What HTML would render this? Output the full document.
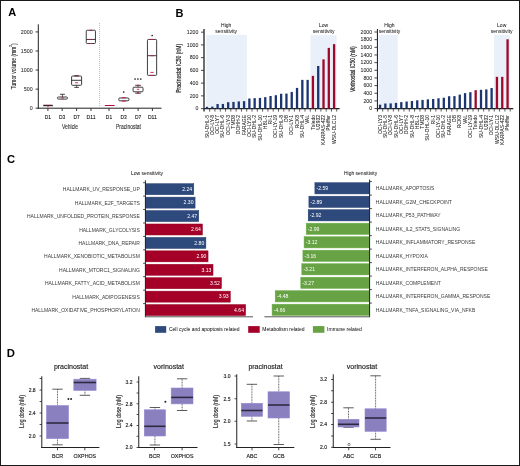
<!DOCTYPE html>
<html><head><meta charset="utf-8"><title>Figure</title>
<style>
html,body{margin:0;padding:0;background:#fff;}
#fig{position:relative;width:518px;height:464px;border:1px solid #1a1a1a;overflow:hidden;background:#fff;}
svg{will-change:transform;position:absolute;left:-1px;top:-1px;font-family:"Liberation Sans", sans-serif;}
</style></head><body>
<div id="fig">
<svg width="520" height="466" viewBox="0 0 520 466">
<text x="8.30" y="16.20" font-size="11" fill="#000" font-weight="bold">A</text>
<text x="175.50" y="16.60" font-size="11" fill="#000" font-weight="bold">B</text>
<text x="7.00" y="163.20" font-size="11.2" fill="#000" font-weight="bold">C</text>
<text x="6.70" y="356.80" font-size="11.3" fill="#000" font-weight="bold">D</text>
<line x1="38.30" y1="24.30" x2="38.30" y2="108.70" stroke="#222" stroke-width="1" />
<line x1="37.80" y1="108.20" x2="161.50" y2="108.20" stroke="#222" stroke-width="1" />
<line x1="35.60" y1="108.20" x2="38.30" y2="108.20" stroke="#222" stroke-width="0.9" />
<text x="32.60" y="110.00" font-size="5.3" text-anchor="end" fill="#3a3a3a" stroke="#3a3a3a" stroke-width="0.1">0</text>
<line x1="35.60" y1="89.13" x2="38.30" y2="89.13" stroke="#222" stroke-width="0.9" />
<text x="32.60" y="90.93" font-size="5.3" text-anchor="end" fill="#3a3a3a" stroke="#3a3a3a" stroke-width="0.1">500</text>
<line x1="35.60" y1="70.06" x2="38.30" y2="70.06" stroke="#222" stroke-width="0.9" />
<text x="32.60" y="71.86" font-size="5.3" text-anchor="end" fill="#3a3a3a" stroke="#3a3a3a" stroke-width="0.1">1000</text>
<line x1="35.60" y1="50.99" x2="38.30" y2="50.99" stroke="#222" stroke-width="0.9" />
<text x="32.60" y="52.79" font-size="5.3" text-anchor="end" fill="#3a3a3a" stroke="#3a3a3a" stroke-width="0.1">1500</text>
<line x1="35.60" y1="31.92" x2="38.30" y2="31.92" stroke="#222" stroke-width="0.9" />
<text x="32.60" y="33.72" font-size="5.3" text-anchor="end" fill="#3a3a3a" stroke="#3a3a3a" stroke-width="0.1">2000</text>
<text x="16.00" y="89.30" font-size="7.4" fill="#222" textLength="45.90" lengthAdjust="spacingAndGlyphs" transform="rotate(-90 16.00 89.30)" stroke="#222" stroke-width="0.1">Tumor volume (mm<tspan font-size="4.2" dy="-4.0">3</tspan><tspan dy="4.0">)</tspan></text>
<line x1="99.60" y1="23.00" x2="99.60" y2="108.00" stroke="#aaa" stroke-width="0.8" stroke-dasharray="1,1"/>
<line x1="47.90" y1="108.20" x2="47.90" y2="111.00" stroke="#222" stroke-width="0.9" />
<text x="47.90" y="119.00" font-size="5.8" text-anchor="middle" textLength="6.30" lengthAdjust="spacingAndGlyphs" stroke="#333" stroke-width="0.1">D1</text>
<line x1="62.20" y1="108.20" x2="62.20" y2="111.00" stroke="#222" stroke-width="0.9" />
<text x="62.20" y="119.00" font-size="5.8" text-anchor="middle" textLength="6.30" lengthAdjust="spacingAndGlyphs" stroke="#333" stroke-width="0.1">D3</text>
<line x1="76.60" y1="108.20" x2="76.60" y2="111.00" stroke="#222" stroke-width="0.9" />
<text x="76.60" y="119.00" font-size="5.8" text-anchor="middle" textLength="6.30" lengthAdjust="spacingAndGlyphs" stroke="#333" stroke-width="0.1">D7</text>
<line x1="91.00" y1="108.20" x2="91.00" y2="111.00" stroke="#222" stroke-width="0.9" />
<text x="91.00" y="119.00" font-size="5.8" text-anchor="middle" textLength="9.00" lengthAdjust="spacingAndGlyphs" stroke="#333" stroke-width="0.1">D11</text>
<line x1="109.00" y1="108.20" x2="109.00" y2="111.00" stroke="#222" stroke-width="0.9" />
<text x="109.00" y="119.00" font-size="5.8" text-anchor="middle" textLength="6.30" lengthAdjust="spacingAndGlyphs" stroke="#333" stroke-width="0.1">D1</text>
<line x1="123.70" y1="108.20" x2="123.70" y2="111.00" stroke="#222" stroke-width="0.9" />
<text x="123.70" y="119.00" font-size="5.8" text-anchor="middle" textLength="6.30" lengthAdjust="spacingAndGlyphs" stroke="#333" stroke-width="0.1">D3</text>
<line x1="138.10" y1="108.20" x2="138.10" y2="111.00" stroke="#222" stroke-width="0.9" />
<text x="138.10" y="119.00" font-size="5.8" text-anchor="middle" textLength="6.30" lengthAdjust="spacingAndGlyphs" stroke="#333" stroke-width="0.1">D7</text>
<line x1="152.40" y1="108.20" x2="152.40" y2="111.00" stroke="#222" stroke-width="0.9" />
<text x="152.40" y="119.00" font-size="5.8" text-anchor="middle" textLength="9.00" lengthAdjust="spacingAndGlyphs" stroke="#333" stroke-width="0.1">D11</text>
<text x="70.00" y="129.00" font-size="7" text-anchor="middle" fill="#2a2a2a" textLength="16.20" lengthAdjust="spacingAndGlyphs" stroke="#2a2a2a" stroke-width="0.1">Vehicle</text>
<text x="128.50" y="129.00" font-size="7" text-anchor="middle" fill="#2a2a2a" textLength="25.00" lengthAdjust="spacingAndGlyphs" stroke="#2a2a2a" stroke-width="0.1">Pracinostat</text>
<line x1="43.20" y1="105.50" x2="52.80" y2="105.50" stroke="#222" stroke-width="1.4" />
<line x1="44.50" y1="105.20" x2="51.50" y2="105.20" stroke="#c8154a" stroke-width="0.6" opacity="0.6"/>
<line x1="48.00" y1="106.00" x2="48.00" y2="107.30" stroke="#c8154a" stroke-width="0.8" />
<line x1="62.45" y1="94.30" x2="62.45" y2="97.00" stroke="#333" stroke-width="0.8" />
<line x1="60.00" y1="94.30" x2="64.90" y2="94.30" stroke="#333" stroke-width="0.9" />
<rect x="57.45" y="97.00" width="10.00" height="2.10" rx="0.9" fill="none" stroke="#333" stroke-width="0.95"/>
<line x1="60.95" y1="98.00" x2="63.95" y2="98.00" stroke="#c8154a" stroke-width="0.9" />
<line x1="76.60" y1="75.70" x2="76.60" y2="76.05" stroke="#333" stroke-width="0.8" />
<line x1="74.30" y1="75.70" x2="78.90" y2="75.70" stroke="#333" stroke-width="0.9" />
<line x1="76.60" y1="85.30" x2="76.60" y2="87.40" stroke="#333" stroke-width="0.8" />
<line x1="74.30" y1="87.40" x2="78.90" y2="87.40" stroke="#333" stroke-width="0.9" />
<rect x="71.60" y="76.05" width="10.00" height="9.25" rx="0.9" fill="none" stroke="#333" stroke-width="0.95"/>
<line x1="71.60" y1="80.30" x2="81.60" y2="80.30" stroke="#333" stroke-width="0.95" />
<line x1="75.20" y1="75.90" x2="78.00" y2="75.90" stroke="#c8154a" stroke-width="0.9" />
<line x1="75.20" y1="82.80" x2="78.00" y2="82.80" stroke="#c8154a" stroke-width="0.9" />
<rect x="86.25" y="30.25" width="9.20" height="13.25" rx="0.9" fill="none" stroke="#333" stroke-width="0.95"/>
<line x1="86.25" y1="39.46" x2="95.45" y2="39.46" stroke="#333" stroke-width="0.95" />
<line x1="89.55" y1="30.25" x2="92.15" y2="30.25" stroke="#c8154a" stroke-width="0.9" />
<line x1="89.55" y1="39.46" x2="92.15" y2="39.46" stroke="#c8154a" stroke-width="0.9" />
<line x1="89.55" y1="43.50" x2="92.15" y2="43.50" stroke="#c8154a" stroke-width="0.9" />
<line x1="104.80" y1="105.50" x2="114.60" y2="105.50" stroke="#b0103a" stroke-width="1.0" />
<rect x="118.80" y="98.00" width="10.10" height="2.80" rx="0.9" fill="none" stroke="#333" stroke-width="0.95"/>
<line x1="121.85" y1="97.60" x2="125.85" y2="97.60" stroke="#c8154a" stroke-width="0.9" />
<line x1="121.85" y1="101.20" x2="125.85" y2="101.20" stroke="#c8154a" stroke-width="0.9" />
<line x1="138.05" y1="85.30" x2="138.05" y2="87.20" stroke="#333" stroke-width="0.8" />
<line x1="135.20" y1="85.30" x2="140.90" y2="85.30" stroke="#333" stroke-width="0.9" />
<line x1="138.05" y1="91.80" x2="138.05" y2="93.20" stroke="#333" stroke-width="0.8" />
<line x1="135.20" y1="93.20" x2="140.90" y2="93.20" stroke="#333" stroke-width="0.9" />
<rect x="133.10" y="87.20" width="9.90" height="4.60" rx="0.9" fill="none" stroke="#333" stroke-width="0.95"/>
<line x1="136.85" y1="85.30" x2="139.25" y2="85.30" stroke="#c8154a" stroke-width="0.9" />
<line x1="136.85" y1="89.30" x2="139.25" y2="89.30" stroke="#c8154a" stroke-width="0.9" />
<line x1="136.85" y1="93.20" x2="139.25" y2="93.20" stroke="#c8154a" stroke-width="0.9" />
<rect x="147.45" y="39.45" width="9.20" height="35.95" rx="0.9" fill="none" stroke="#333" stroke-width="0.95"/>
<line x1="147.45" y1="55.70" x2="156.65" y2="55.70" stroke="#333" stroke-width="0.95" />
<line x1="150.45" y1="39.45" x2="153.65" y2="39.45" stroke="#c8154a" stroke-width="0.9" />
<line x1="150.45" y1="55.70" x2="153.65" y2="55.70" stroke="#c8154a" stroke-width="0.9" />
<line x1="150.45" y1="72.40" x2="153.65" y2="72.40" stroke="#c8154a" stroke-width="0.9" />
<line x1="150.45" y1="75.40" x2="153.65" y2="75.40" stroke="#c8154a" stroke-width="0.9" />
<circle cx="123.7" cy="92.0" r="0.85" fill="#222"/>
<circle cx="135.1" cy="79.0" r="0.85" fill="#222"/>
<circle cx="137.9" cy="79.0" r="0.85" fill="#222"/>
<circle cx="140.75" cy="79.0" r="0.85" fill="#222"/>
<circle cx="152.15" cy="35.5" r="0.85" fill="#222"/>
<rect x="206.20" y="34.90" width="40.80" height="73.70" fill="#e9f0fa" />
<rect x="310.50" y="35.20" width="26.10" height="73.40" fill="#e9f0fa" />
<line x1="204.00" y1="29.10" x2="204.00" y2="111.60" stroke="#4a4a4a" stroke-width="1.6" />
<line x1="203.50" y1="108.60" x2="339.60" y2="108.60" stroke="#222" stroke-width="1.2" />
<line x1="201.00" y1="108.60" x2="204.00" y2="108.60" stroke="#333" stroke-width="0.9" />
<text x="198.30" y="110.40" font-size="5.2" text-anchor="end" fill="#222" stroke="#222" stroke-width="0.05">0</text>
<line x1="201.00" y1="95.86" x2="204.00" y2="95.86" stroke="#333" stroke-width="0.9" />
<text x="198.30" y="97.66" font-size="5.2" text-anchor="end" fill="#222" stroke="#222" stroke-width="0.05">200</text>
<line x1="201.00" y1="83.12" x2="204.00" y2="83.12" stroke="#333" stroke-width="0.9" />
<text x="198.30" y="84.92" font-size="5.2" text-anchor="end" fill="#222" stroke="#222" stroke-width="0.05">400</text>
<line x1="201.00" y1="70.38" x2="204.00" y2="70.38" stroke="#333" stroke-width="0.9" />
<text x="198.30" y="72.18" font-size="5.2" text-anchor="end" fill="#222" stroke="#222" stroke-width="0.05">600</text>
<line x1="201.00" y1="57.64" x2="204.00" y2="57.64" stroke="#333" stroke-width="0.9" />
<text x="198.30" y="59.44" font-size="5.2" text-anchor="end" fill="#222" stroke="#222" stroke-width="0.05">800</text>
<line x1="201.00" y1="44.90" x2="204.00" y2="44.90" stroke="#333" stroke-width="0.9" />
<text x="198.30" y="46.70" font-size="5.2" text-anchor="end" fill="#222" stroke="#222" stroke-width="0.05">1000</text>
<line x1="201.00" y1="32.16" x2="204.00" y2="32.16" stroke="#333" stroke-width="0.9" />
<text x="198.30" y="33.96" font-size="5.2" text-anchor="end" fill="#222" stroke="#222" stroke-width="0.05">1200</text>
<text x="181.30" y="68.35" font-size="6.6" text-anchor="middle" fill="#222" textLength="48.90" lengthAdjust="spacingAndGlyphs" transform="rotate(-90 181.30 68.35)" stroke="#222" stroke-width="0.2">Pracinostat IC50 (nM)</text>
<rect x="205.85" y="106.82" width="2.30" height="1.78" fill="#1b3570" />
<line x1="209.65" y1="108.60" x2="209.65" y2="111.60" stroke="#333" stroke-width="0.8" />
<text x="208.60" y="115.00" font-size="5.0" text-anchor="end" fill="#222" transform="rotate(-90 208.60 115.00)" stroke="#222" stroke-width="0.05">SU-DHL-5</text>
<rect x="211.15" y="106.63" width="2.30" height="1.97" fill="#1b3570" />
<line x1="214.94" y1="108.60" x2="214.94" y2="111.60" stroke="#333" stroke-width="0.8" />
<text x="213.90" y="115.00" font-size="5.0" text-anchor="end" fill="#222" transform="rotate(-90 213.90 115.00)" stroke="#222" stroke-width="0.05">OCI-LY-8</text>
<rect x="216.44" y="104.01" width="2.30" height="4.59" fill="#1b3570" />
<line x1="220.24" y1="108.60" x2="220.24" y2="111.60" stroke="#333" stroke-width="0.8" />
<text x="219.19" y="115.00" font-size="5.0" text-anchor="end" fill="#222" transform="rotate(-90 219.19 115.00)" stroke="#222" stroke-width="0.05">OCI-LY7</text>
<rect x="221.74" y="103.95" width="2.30" height="4.65" fill="#1b3570" />
<line x1="225.54" y1="108.60" x2="225.54" y2="111.60" stroke="#333" stroke-width="0.8" />
<text x="224.49" y="115.00" font-size="5.0" text-anchor="end" fill="#222" transform="rotate(-90 224.49 115.00)" stroke="#222" stroke-width="0.05">SU-DHL-6</text>
<rect x="227.03" y="102.23" width="2.30" height="6.37" fill="#1b3570" />
<line x1="230.83" y1="108.60" x2="230.83" y2="111.60" stroke="#333" stroke-width="0.8" />
<text x="229.78" y="115.00" font-size="5.0" text-anchor="end" fill="#222" transform="rotate(-90 229.78 115.00)" stroke="#222" stroke-width="0.05">OCI-LY-3</text>
<rect x="232.33" y="101.91" width="2.30" height="6.69" fill="#1b3570" />
<line x1="236.13" y1="108.60" x2="236.13" y2="111.60" stroke="#333" stroke-width="0.8" />
<text x="235.08" y="115.00" font-size="5.0" text-anchor="end" fill="#222" transform="rotate(-90 235.08 115.00)" stroke="#222" stroke-width="0.05">TMD8</text>
<rect x="237.63" y="101.40" width="2.30" height="7.20" fill="#1b3570" />
<line x1="241.42" y1="108.60" x2="241.42" y2="111.60" stroke="#333" stroke-width="0.8" />
<text x="240.38" y="115.00" font-size="5.0" text-anchor="end" fill="#222" transform="rotate(-90 240.38 115.00)" stroke="#222" stroke-width="0.05">DOHH-2</text>
<rect x="242.92" y="101.15" width="2.30" height="7.45" fill="#1b3570" />
<line x1="246.72" y1="108.60" x2="246.72" y2="111.60" stroke="#333" stroke-width="0.8" />
<text x="245.67" y="115.00" font-size="5.0" text-anchor="end" fill="#222" transform="rotate(-90 245.67 115.00)" stroke="#222" stroke-width="0.05">FARAGE</text>
<rect x="248.22" y="98.54" width="2.30" height="10.06" fill="#1b3570" />
<line x1="252.02" y1="108.60" x2="252.02" y2="111.60" stroke="#333" stroke-width="0.8" />
<text x="250.97" y="115.00" font-size="5.0" text-anchor="end" fill="#222" transform="rotate(-90 250.97 115.00)" stroke="#222" stroke-width="0.05">OCI-LY10</text>
<rect x="253.51" y="98.15" width="2.30" height="10.45" fill="#1b3570" />
<line x1="257.31" y1="108.60" x2="257.31" y2="111.60" stroke="#333" stroke-width="0.8" />
<text x="256.26" y="115.00" font-size="5.0" text-anchor="end" fill="#222" transform="rotate(-90 256.26 115.00)" stroke="#222" stroke-width="0.05">SU-DHL-2</text>
<rect x="258.81" y="97.90" width="2.30" height="10.70" fill="#1b3570" />
<line x1="262.61" y1="108.60" x2="262.61" y2="111.60" stroke="#333" stroke-width="0.8" />
<text x="261.56" y="115.00" font-size="5.0" text-anchor="end" fill="#222" transform="rotate(-90 261.56 115.00)" stroke="#222" stroke-width="0.05">SU-DHL-10</text>
<rect x="264.11" y="97.13" width="2.30" height="11.47" fill="#1b3570" />
<line x1="267.90" y1="108.60" x2="267.90" y2="111.60" stroke="#333" stroke-width="0.8" />
<text x="266.86" y="115.00" font-size="5.0" text-anchor="end" fill="#222" transform="rotate(-90 266.86 115.00)" stroke="#222" stroke-width="0.05">HBL-1</text>
<rect x="269.40" y="95.99" width="2.30" height="12.61" fill="#1b3570" />
<line x1="273.20" y1="108.60" x2="273.20" y2="111.60" stroke="#333" stroke-width="0.8" />
<text x="272.15" y="115.00" font-size="5.0" text-anchor="end" fill="#222" transform="rotate(-90 272.15 115.00)" stroke="#222" stroke-width="0.05">RI-1</text>
<rect x="274.70" y="95.22" width="2.30" height="13.38" fill="#1b3570" />
<line x1="278.50" y1="108.60" x2="278.50" y2="111.60" stroke="#333" stroke-width="0.8" />
<text x="277.45" y="115.00" font-size="5.0" text-anchor="end" fill="#222" transform="rotate(-90 277.45 115.00)" stroke="#222" stroke-width="0.05">OCI-LY-19</text>
<rect x="279.99" y="93.76" width="2.30" height="14.84" fill="#1b3570" />
<line x1="283.79" y1="108.60" x2="283.79" y2="111.60" stroke="#333" stroke-width="0.8" />
<text x="282.74" y="115.00" font-size="5.0" text-anchor="end" fill="#222" transform="rotate(-90 282.74 115.00)" stroke="#222" stroke-width="0.05">SU-DHL-8</text>
<rect x="285.29" y="93.57" width="2.30" height="15.03" fill="#1b3570" />
<line x1="289.09" y1="108.60" x2="289.09" y2="111.60" stroke="#333" stroke-width="0.8" />
<text x="288.04" y="115.00" font-size="5.0" text-anchor="end" fill="#222" transform="rotate(-90 288.04 115.00)" stroke="#222" stroke-width="0.05">DB</text>
<rect x="290.59" y="91.91" width="2.30" height="16.69" fill="#1b3570" />
<line x1="294.38" y1="108.60" x2="294.38" y2="111.60" stroke="#333" stroke-width="0.8" />
<text x="293.34" y="115.00" font-size="5.0" text-anchor="end" fill="#222" transform="rotate(-90 293.34 115.00)" stroke="#222" stroke-width="0.05">OCI-LY-1</text>
<rect x="295.88" y="87.90" width="2.30" height="20.70" fill="#1b3570" />
<line x1="299.68" y1="108.60" x2="299.68" y2="111.60" stroke="#333" stroke-width="0.8" />
<text x="298.63" y="115.00" font-size="5.0" text-anchor="end" fill="#222" transform="rotate(-90 298.63 115.00)" stroke="#222" stroke-width="0.05">RCK8</text>
<rect x="301.18" y="79.87" width="2.30" height="28.73" fill="#1b3570" />
<line x1="304.98" y1="108.60" x2="304.98" y2="111.60" stroke="#333" stroke-width="0.8" />
<text x="303.93" y="115.00" font-size="5.0" text-anchor="end" fill="#222" transform="rotate(-90 303.93 115.00)" stroke="#222" stroke-width="0.05">SU-DHL-4</text>
<rect x="306.47" y="79.87" width="2.30" height="28.73" fill="#1b3570" />
<line x1="310.27" y1="108.60" x2="310.27" y2="111.60" stroke="#333" stroke-width="0.8" />
<text x="309.22" y="115.00" font-size="5.0" text-anchor="end" fill="#222" transform="rotate(-90 309.22 115.00)" stroke="#222" stroke-width="0.05">VAL</text>
<rect x="311.77" y="75.86" width="2.30" height="32.74" fill="#a0082a" />
<line x1="315.57" y1="108.60" x2="315.57" y2="111.60" stroke="#333" stroke-width="0.8" />
<text x="314.52" y="115.00" font-size="5.0" text-anchor="end" fill="#222" transform="rotate(-90 314.52 115.00)" stroke="#222" stroke-width="0.05">Toledo</text>
<rect x="317.07" y="65.98" width="2.30" height="42.62" fill="#1b3570" />
<line x1="320.86" y1="108.60" x2="320.86" y2="111.60" stroke="#333" stroke-width="0.8" />
<text x="319.82" y="115.00" font-size="5.0" text-anchor="end" fill="#222" transform="rotate(-90 319.82 115.00)" stroke="#222" stroke-width="0.05">U2932</text>
<rect x="322.36" y="59.36" width="2.30" height="49.24" fill="#a0082a" />
<line x1="326.16" y1="108.60" x2="326.16" y2="111.60" stroke="#333" stroke-width="0.8" />
<text x="325.11" y="115.00" font-size="5.0" text-anchor="end" fill="#222" transform="rotate(-90 325.11 115.00)" stroke="#222" stroke-width="0.05">KARPAS-422</text>
<rect x="327.66" y="47.89" width="2.30" height="60.71" fill="#a0082a" />
<line x1="331.46" y1="108.60" x2="331.46" y2="111.60" stroke="#333" stroke-width="0.8" />
<text x="330.41" y="115.00" font-size="5.0" text-anchor="end" fill="#222" transform="rotate(-90 330.41 115.00)" stroke="#222" stroke-width="0.05">Pfeiffer</text>
<rect x="332.95" y="44.14" width="2.30" height="64.46" fill="#a0082a" />
<line x1="336.75" y1="108.60" x2="336.75" y2="111.60" stroke="#333" stroke-width="0.8" />
<text x="335.70" y="115.00" font-size="5.0" text-anchor="end" fill="#222" transform="rotate(-90 335.70 115.00)" stroke="#222" stroke-width="0.05">WSU-DLCL2</text>
<text x="226.20" y="26.80" font-size="5" text-anchor="middle">High</text>
<text x="226.20" y="32.90" font-size="5" text-anchor="middle">sensitivity</text>
<text x="323.60" y="26.80" font-size="5" text-anchor="middle">Low</text>
<text x="323.60" y="32.90" font-size="5" text-anchor="middle">sensitivity</text>
<rect x="378.60" y="34.90" width="19.10" height="73.66" fill="#e9f0fa" />
<rect x="494.00" y="34.90" width="16.00" height="73.66" fill="#e9f0fa" />
<line x1="377.45" y1="29.10" x2="377.45" y2="111.56" stroke="#2a2a2a" stroke-width="1.1" />
<line x1="376.95" y1="108.56" x2="513.30" y2="108.56" stroke="#222" stroke-width="1.2" />
<line x1="374.45" y1="108.56" x2="377.45" y2="108.56" stroke="#333" stroke-width="0.9" />
<text x="372.10" y="110.36" font-size="5.2" text-anchor="end" fill="#222" stroke="#222" stroke-width="0.05">0</text>
<line x1="374.45" y1="100.90" x2="377.45" y2="100.90" stroke="#333" stroke-width="0.9" />
<text x="372.10" y="102.70" font-size="5.2" text-anchor="end" fill="#222" stroke="#222" stroke-width="0.05">200</text>
<line x1="374.45" y1="93.25" x2="377.45" y2="93.25" stroke="#333" stroke-width="0.9" />
<text x="372.10" y="95.05" font-size="5.2" text-anchor="end" fill="#222" stroke="#222" stroke-width="0.05">400</text>
<line x1="374.45" y1="85.59" x2="377.45" y2="85.59" stroke="#333" stroke-width="0.9" />
<text x="372.10" y="87.39" font-size="5.2" text-anchor="end" fill="#222" stroke="#222" stroke-width="0.05">600</text>
<line x1="374.45" y1="77.94" x2="377.45" y2="77.94" stroke="#333" stroke-width="0.9" />
<text x="372.10" y="79.74" font-size="5.2" text-anchor="end" fill="#222" stroke="#222" stroke-width="0.05">800</text>
<line x1="374.45" y1="70.28" x2="377.45" y2="70.28" stroke="#333" stroke-width="0.9" />
<text x="372.10" y="72.08" font-size="5.2" text-anchor="end" fill="#222" stroke="#222" stroke-width="0.05">1000</text>
<line x1="374.45" y1="62.62" x2="377.45" y2="62.62" stroke="#333" stroke-width="0.9" />
<text x="372.10" y="64.42" font-size="5.2" text-anchor="end" fill="#222" stroke="#222" stroke-width="0.05">1200</text>
<line x1="374.45" y1="54.97" x2="377.45" y2="54.97" stroke="#333" stroke-width="0.9" />
<text x="372.10" y="56.77" font-size="5.2" text-anchor="end" fill="#222" stroke="#222" stroke-width="0.05">1400</text>
<line x1="374.45" y1="47.31" x2="377.45" y2="47.31" stroke="#333" stroke-width="0.9" />
<text x="372.10" y="49.11" font-size="5.2" text-anchor="end" fill="#222" stroke="#222" stroke-width="0.05">1600</text>
<line x1="374.45" y1="39.66" x2="377.45" y2="39.66" stroke="#333" stroke-width="0.9" />
<text x="372.10" y="41.46" font-size="5.2" text-anchor="end" fill="#222" stroke="#222" stroke-width="0.05">1800</text>
<line x1="374.45" y1="32.00" x2="377.45" y2="32.00" stroke="#333" stroke-width="0.9" />
<text x="372.10" y="33.80" font-size="5.2" text-anchor="end" fill="#222" stroke="#222" stroke-width="0.05">2000</text>
<text x="354.60" y="69.25" font-size="6.6" text-anchor="middle" fill="#222" textLength="45.70" lengthAdjust="spacingAndGlyphs" transform="rotate(-90 354.60 69.25)" stroke="#222" stroke-width="0.2">Vorinostat IC50 (nM)</text>
<rect x="378.90" y="104.69" width="2.30" height="3.87" fill="#1b3570" />
<line x1="382.71" y1="108.56" x2="382.71" y2="111.56" stroke="#333" stroke-width="0.8" />
<text x="381.65" y="115.00" font-size="5.0" text-anchor="end" fill="#222" transform="rotate(-90 381.65 115.00)" stroke="#222" stroke-width="0.05">OCI-LY3</text>
<rect x="384.21" y="103.51" width="2.30" height="5.05" fill="#1b3570" />
<line x1="388.02" y1="108.56" x2="388.02" y2="111.56" stroke="#333" stroke-width="0.8" />
<text x="386.96" y="115.00" font-size="5.0" text-anchor="end" fill="#222" transform="rotate(-90 386.96 115.00)" stroke="#222" stroke-width="0.05">SU-DHL-5</text>
<rect x="389.53" y="103.39" width="2.30" height="5.17" fill="#1b3570" />
<line x1="393.33" y1="108.56" x2="393.33" y2="111.56" stroke="#333" stroke-width="0.8" />
<text x="392.28" y="115.00" font-size="5.0" text-anchor="end" fill="#222" transform="rotate(-90 392.28 115.00)" stroke="#222" stroke-width="0.05">OCI-LY-8</text>
<rect x="394.84" y="102.89" width="2.30" height="5.67" fill="#1b3570" />
<line x1="398.65" y1="108.56" x2="398.65" y2="111.56" stroke="#333" stroke-width="0.8" />
<text x="397.59" y="115.00" font-size="5.0" text-anchor="end" fill="#222" transform="rotate(-90 397.59 115.00)" stroke="#222" stroke-width="0.05">SU-DHL-6</text>
<rect x="400.15" y="102.09" width="2.30" height="6.47" fill="#1b3570" />
<line x1="403.96" y1="108.56" x2="403.96" y2="111.56" stroke="#333" stroke-width="0.8" />
<text x="402.90" y="115.00" font-size="5.0" text-anchor="end" fill="#222" transform="rotate(-90 402.90 115.00)" stroke="#222" stroke-width="0.05">OCI-LY7</text>
<rect x="405.47" y="101.52" width="2.30" height="7.04" fill="#1b3570" />
<line x1="409.27" y1="108.56" x2="409.27" y2="111.56" stroke="#333" stroke-width="0.8" />
<text x="408.22" y="115.00" font-size="5.0" text-anchor="end" fill="#222" transform="rotate(-90 408.22 115.00)" stroke="#222" stroke-width="0.05">DOHH-2</text>
<rect x="410.78" y="101.02" width="2.30" height="7.54" fill="#1b3570" />
<line x1="414.58" y1="108.56" x2="414.58" y2="111.56" stroke="#333" stroke-width="0.8" />
<text x="413.53" y="115.00" font-size="5.0" text-anchor="end" fill="#222" transform="rotate(-90 413.53 115.00)" stroke="#222" stroke-width="0.05">SU-DHL-8</text>
<rect x="416.09" y="100.29" width="2.30" height="8.27" fill="#1b3570" />
<line x1="419.90" y1="108.56" x2="419.90" y2="111.56" stroke="#333" stroke-width="0.8" />
<text x="418.84" y="115.00" font-size="5.0" text-anchor="end" fill="#222" transform="rotate(-90 418.84 115.00)" stroke="#222" stroke-width="0.05">HBL-1</text>
<rect x="421.40" y="99.91" width="2.30" height="8.65" fill="#1b3570" />
<line x1="425.21" y1="108.56" x2="425.21" y2="111.56" stroke="#333" stroke-width="0.8" />
<text x="424.15" y="115.00" font-size="5.0" text-anchor="end" fill="#222" transform="rotate(-90 424.15 115.00)" stroke="#222" stroke-width="0.05">TMD8</text>
<rect x="426.72" y="99.33" width="2.30" height="9.23" fill="#1b3570" />
<line x1="430.52" y1="108.56" x2="430.52" y2="111.56" stroke="#333" stroke-width="0.8" />
<text x="429.47" y="115.00" font-size="5.0" text-anchor="end" fill="#222" transform="rotate(-90 429.47 115.00)" stroke="#222" stroke-width="0.05">SU-DHL-10</text>
<rect x="432.03" y="99.03" width="2.30" height="9.53" fill="#1b3570" />
<line x1="435.84" y1="108.56" x2="435.84" y2="111.56" stroke="#333" stroke-width="0.8" />
<text x="434.78" y="115.00" font-size="5.0" text-anchor="end" fill="#222" transform="rotate(-90 434.78 115.00)" stroke="#222" stroke-width="0.05">RI-1</text>
<rect x="437.34" y="98.30" width="2.30" height="10.26" fill="#1b3570" />
<line x1="441.15" y1="108.56" x2="441.15" y2="111.56" stroke="#333" stroke-width="0.8" />
<text x="440.09" y="115.00" font-size="5.0" text-anchor="end" fill="#222" transform="rotate(-90 440.09 115.00)" stroke="#222" stroke-width="0.05">OCI-LY-10</text>
<rect x="442.66" y="97.73" width="2.30" height="10.83" fill="#1b3570" />
<line x1="446.46" y1="108.56" x2="446.46" y2="111.56" stroke="#333" stroke-width="0.8" />
<text x="445.41" y="115.00" font-size="5.0" text-anchor="end" fill="#222" transform="rotate(-90 445.41 115.00)" stroke="#222" stroke-width="0.05">SU-DHL-2</text>
<rect x="447.97" y="96.23" width="2.30" height="12.33" fill="#1b3570" />
<line x1="451.78" y1="108.56" x2="451.78" y2="111.56" stroke="#333" stroke-width="0.8" />
<text x="450.72" y="115.00" font-size="5.0" text-anchor="end" fill="#222" transform="rotate(-90 450.72 115.00)" stroke="#222" stroke-width="0.05">FARAGE</text>
<rect x="453.28" y="96.12" width="2.30" height="12.44" fill="#1b3570" />
<line x1="457.09" y1="108.56" x2="457.09" y2="111.56" stroke="#333" stroke-width="0.8" />
<text x="456.03" y="115.00" font-size="5.0" text-anchor="end" fill="#222" transform="rotate(-90 456.03 115.00)" stroke="#222" stroke-width="0.05">DB</text>
<rect x="458.60" y="94.63" width="2.30" height="13.93" fill="#1b3570" />
<line x1="462.40" y1="108.56" x2="462.40" y2="111.56" stroke="#333" stroke-width="0.8" />
<text x="461.35" y="115.00" font-size="5.0" text-anchor="end" fill="#222" transform="rotate(-90 461.35 115.00)" stroke="#222" stroke-width="0.05">RCK8</text>
<rect x="463.91" y="93.13" width="2.30" height="15.43" fill="#1b3570" />
<line x1="467.71" y1="108.56" x2="467.71" y2="111.56" stroke="#333" stroke-width="0.8" />
<text x="466.66" y="115.00" font-size="5.0" text-anchor="end" fill="#222" transform="rotate(-90 466.66 115.00)" stroke="#222" stroke-width="0.05">VAL</text>
<rect x="469.22" y="92.18" width="2.30" height="16.38" fill="#1b3570" />
<line x1="473.03" y1="108.56" x2="473.03" y2="111.56" stroke="#333" stroke-width="0.8" />
<text x="471.97" y="115.00" font-size="5.0" text-anchor="end" fill="#222" transform="rotate(-90 471.97 115.00)" stroke="#222" stroke-width="0.05">OCI-LY-19</text>
<rect x="474.53" y="90.19" width="2.30" height="18.37" fill="#a0082a" />
<line x1="478.34" y1="108.56" x2="478.34" y2="111.56" stroke="#333" stroke-width="0.8" />
<text x="477.28" y="115.00" font-size="5.0" text-anchor="end" fill="#222" transform="rotate(-90 477.28 115.00)" stroke="#222" stroke-width="0.05">Toledo</text>
<rect x="479.85" y="89.80" width="2.30" height="18.76" fill="#1b3570" />
<line x1="483.65" y1="108.56" x2="483.65" y2="111.56" stroke="#333" stroke-width="0.8" />
<text x="482.60" y="115.00" font-size="5.0" text-anchor="end" fill="#222" transform="rotate(-90 482.60 115.00)" stroke="#222" stroke-width="0.05">SU-DHL-4</text>
<rect x="485.16" y="89.42" width="2.30" height="19.14" fill="#1b3570" />
<line x1="488.97" y1="108.56" x2="488.97" y2="111.56" stroke="#333" stroke-width="0.8" />
<text x="487.91" y="115.00" font-size="5.0" text-anchor="end" fill="#222" transform="rotate(-90 487.91 115.00)" stroke="#222" stroke-width="0.05">U2932</text>
<rect x="490.47" y="88.08" width="2.30" height="20.48" fill="#1b3570" />
<line x1="494.28" y1="108.56" x2="494.28" y2="111.56" stroke="#333" stroke-width="0.8" />
<text x="493.22" y="115.00" font-size="5.0" text-anchor="end" fill="#222" transform="rotate(-90 493.22 115.00)" stroke="#222" stroke-width="0.05">OCI-LY-1</text>
<rect x="495.79" y="76.83" width="2.30" height="31.73" fill="#a0082a" />
<line x1="499.59" y1="108.56" x2="499.59" y2="111.56" stroke="#333" stroke-width="0.8" />
<text x="498.54" y="115.00" font-size="5.0" text-anchor="end" fill="#222" transform="rotate(-90 498.54 115.00)" stroke="#222" stroke-width="0.05">WSU-DLCL2</text>
<rect x="501.10" y="76.83" width="2.30" height="31.73" fill="#a0082a" />
<line x1="504.91" y1="108.56" x2="504.91" y2="111.56" stroke="#333" stroke-width="0.8" />
<text x="503.85" y="115.00" font-size="5.0" text-anchor="end" fill="#222" transform="rotate(-90 503.85 115.00)" stroke="#222" stroke-width="0.05">KARPAS-422</text>
<rect x="506.41" y="39.27" width="2.30" height="69.29" fill="#a0082a" />
<line x1="510.22" y1="108.56" x2="510.22" y2="111.56" stroke="#333" stroke-width="0.8" />
<text x="509.16" y="115.00" font-size="5.0" text-anchor="end" fill="#222" transform="rotate(-90 509.16 115.00)" stroke="#222" stroke-width="0.05">Pfeiffer</text>
<text x="389.50" y="26.80" font-size="5" text-anchor="middle">High</text>
<text x="389.50" y="32.90" font-size="5" text-anchor="middle">sensitivity</text>
<text x="501.70" y="26.80" font-size="5" text-anchor="middle">Low</text>
<text x="501.70" y="32.90" font-size="5" text-anchor="middle">sensitivity</text>
<rect x="145.40" y="183.70" width="48.38" height="11.00" fill="#2e4a7c" stroke="#223d70" stroke-width="0.5"/>
<text x="192.18" y="191.00" font-size="5.1" text-anchor="end" fill="#fff">2.24</text>
<text x="139.80" y="191.30" font-size="5.0" text-anchor="end" fill="#3a3a3a">HALLMARK_UV_RESPONSE_UP</text>
<line x1="143.10" y1="182.70" x2="145.40" y2="182.70" stroke="#222" stroke-width="0.8" />
<rect x="145.40" y="197.13" width="49.68" height="11.00" fill="#2e4a7c" stroke="#223d70" stroke-width="0.5"/>
<text x="193.48" y="204.43" font-size="5.1" text-anchor="end" fill="#fff">2.30</text>
<text x="139.80" y="204.73" font-size="5.0" text-anchor="end" fill="#3a3a3a">HALLMARK_E2F_TARGETS</text>
<line x1="143.10" y1="196.13" x2="145.40" y2="196.13" stroke="#222" stroke-width="0.8" />
<rect x="145.40" y="210.56" width="53.35" height="11.00" fill="#2e4a7c" stroke="#223d70" stroke-width="0.5"/>
<text x="197.15" y="217.86" font-size="5.1" text-anchor="end" fill="#fff">2.47</text>
<text x="139.80" y="218.16" font-size="5.0" text-anchor="end" fill="#3a3a3a">HALLMARK_UNFOLDED_PROTEIN_RESPONSE</text>
<line x1="143.10" y1="209.56" x2="145.40" y2="209.56" stroke="#222" stroke-width="0.8" />
<rect x="145.40" y="223.99" width="57.02" height="11.00" fill="#a50028" stroke="#980025" stroke-width="0.5"/>
<text x="200.82" y="231.29" font-size="5.1" text-anchor="end" fill="#fff">2.64</text>
<text x="139.80" y="231.59" font-size="5.0" text-anchor="end" fill="#3a3a3a">HALLMARK_GLYCOLYSIS</text>
<line x1="143.10" y1="222.99" x2="145.40" y2="222.99" stroke="#222" stroke-width="0.8" />
<rect x="145.40" y="237.42" width="60.48" height="11.00" fill="#2e4a7c" stroke="#223d70" stroke-width="0.5"/>
<text x="204.28" y="244.72" font-size="5.1" text-anchor="end" fill="#fff">2.80</text>
<text x="139.80" y="245.02" font-size="5.0" text-anchor="end" fill="#3a3a3a">HALLMARK_DNA_REPAIR</text>
<line x1="143.10" y1="236.42" x2="145.40" y2="236.42" stroke="#222" stroke-width="0.8" />
<rect x="145.40" y="250.85" width="62.64" height="11.00" fill="#a50028" stroke="#980025" stroke-width="0.5"/>
<text x="206.44" y="258.15" font-size="5.1" text-anchor="end" fill="#fff">2.90</text>
<text x="139.80" y="258.45" font-size="5.0" text-anchor="end" fill="#3a3a3a">HALLMARK_XENOBIOTIC_METABOLISM</text>
<line x1="143.10" y1="249.85" x2="145.40" y2="249.85" stroke="#222" stroke-width="0.8" />
<rect x="145.40" y="264.28" width="67.61" height="11.00" fill="#a50028" stroke="#980025" stroke-width="0.5"/>
<text x="211.41" y="271.58" font-size="5.1" text-anchor="end" fill="#fff">3.13</text>
<text x="139.80" y="271.88" font-size="5.0" text-anchor="end" fill="#3a3a3a">HALLMARK_MTORC1_SIGNALING</text>
<line x1="143.10" y1="263.28" x2="145.40" y2="263.28" stroke="#222" stroke-width="0.8" />
<rect x="145.40" y="277.71" width="76.03" height="11.00" fill="#a50028" stroke="#980025" stroke-width="0.5"/>
<text x="219.83" y="285.01" font-size="5.1" text-anchor="end" fill="#fff">3.52</text>
<text x="139.80" y="285.31" font-size="5.0" text-anchor="end" fill="#3a3a3a">HALLMARK_FATTY_ACID_METABOLISM</text>
<line x1="143.10" y1="276.71" x2="145.40" y2="276.71" stroke="#222" stroke-width="0.8" />
<rect x="145.40" y="291.14" width="84.89" height="11.00" fill="#a50028" stroke="#980025" stroke-width="0.5"/>
<text x="228.69" y="298.44" font-size="5.1" text-anchor="end" fill="#fff">3.93</text>
<text x="139.80" y="298.74" font-size="5.0" text-anchor="end" fill="#3a3a3a">HALLMARK_ADIPOGENESIS</text>
<line x1="143.10" y1="290.14" x2="145.40" y2="290.14" stroke="#222" stroke-width="0.8" />
<rect x="145.40" y="304.57" width="100.22" height="11.00" fill="#a50028" stroke="#980025" stroke-width="0.5"/>
<text x="244.02" y="311.87" font-size="5.1" text-anchor="end" fill="#fff">4.64</text>
<text x="139.80" y="312.17" font-size="5.0" text-anchor="end" fill="#3a3a3a">HALLMARK_OXIDATIVE_PHOSPHORYLATION</text>
<line x1="143.10" y1="303.57" x2="145.40" y2="303.57" stroke="#222" stroke-width="0.8" />
<rect x="314.90" y="182.70" width="54.70" height="11.20" fill="#2e4a7c" stroke="#223d70" stroke-width="0.5"/>
<text x="316.50" y="190.10" font-size="5.1" fill="#fff">-2.59</text>
<text x="375.80" y="190.40" font-size="5.0" fill="#3a3a3a">HALLMARK_APOPTOSIS</text>
<line x1="369.60" y1="181.60" x2="371.90" y2="181.60" stroke="#222" stroke-width="0.8" />
<rect x="308.90" y="196.20" width="60.70" height="11.20" fill="#2e4a7c" stroke="#223d70" stroke-width="0.5"/>
<text x="310.50" y="203.60" font-size="5.1" fill="#fff">-2.89</text>
<text x="375.80" y="203.90" font-size="5.0" fill="#3a3a3a">HALLMARK_G2M_CHECKPOINT</text>
<line x1="369.60" y1="195.10" x2="371.90" y2="195.10" stroke="#222" stroke-width="0.8" />
<rect x="308.20" y="209.70" width="61.40" height="11.20" fill="#2e4a7c" stroke="#223d70" stroke-width="0.5"/>
<text x="309.80" y="217.10" font-size="5.1" fill="#fff">-2.92</text>
<text x="375.80" y="217.40" font-size="5.0" fill="#3a3a3a">HALLMARK_P53_PATHWAY</text>
<line x1="369.60" y1="208.60" x2="371.90" y2="208.60" stroke="#222" stroke-width="0.8" />
<rect x="306.20" y="223.20" width="63.40" height="11.20" fill="#67a345" stroke="#6aab44" stroke-width="0.5"/>
<text x="307.80" y="230.60" font-size="5.1" fill="#fff">-2.99</text>
<text x="375.80" y="230.90" font-size="5.0" fill="#3a3a3a">HALLMARK_IL2_STAT5_SIGNALING</text>
<line x1="369.60" y1="222.10" x2="371.90" y2="222.10" stroke="#222" stroke-width="0.8" />
<rect x="304.10" y="236.70" width="65.50" height="11.20" fill="#67a345" stroke="#6aab44" stroke-width="0.5"/>
<text x="305.70" y="244.10" font-size="5.1" fill="#fff">-3.12</text>
<text x="375.80" y="244.40" font-size="5.0" fill="#3a3a3a">HALLMARK_INFLAMMATORY_RESPONSE</text>
<line x1="369.60" y1="235.60" x2="371.90" y2="235.60" stroke="#222" stroke-width="0.8" />
<rect x="302.90" y="250.20" width="66.70" height="11.20" fill="#67a345" stroke="#6aab44" stroke-width="0.5"/>
<text x="304.50" y="257.60" font-size="5.1" fill="#fff">-3.16</text>
<text x="375.80" y="257.90" font-size="5.0" fill="#3a3a3a">HALLMARK_HYPOXIA</text>
<line x1="369.60" y1="249.10" x2="371.90" y2="249.10" stroke="#222" stroke-width="0.8" />
<rect x="301.80" y="263.70" width="67.80" height="11.20" fill="#67a345" stroke="#6aab44" stroke-width="0.5"/>
<text x="303.40" y="271.10" font-size="5.1" fill="#fff">-3.21</text>
<text x="375.80" y="271.40" font-size="5.0" fill="#3a3a3a">HALLMARK_INTERFERON_ALPHA_RESPONSE</text>
<line x1="369.60" y1="262.60" x2="371.90" y2="262.60" stroke="#222" stroke-width="0.8" />
<rect x="300.80" y="277.20" width="68.80" height="11.20" fill="#67a345" stroke="#6aab44" stroke-width="0.5"/>
<text x="302.40" y="284.60" font-size="5.1" fill="#fff">-3.27</text>
<text x="375.80" y="284.90" font-size="5.0" fill="#3a3a3a">HALLMARK_COMPLEMENT</text>
<line x1="369.60" y1="276.10" x2="371.90" y2="276.10" stroke="#222" stroke-width="0.8" />
<rect x="275.20" y="290.70" width="94.40" height="11.20" fill="#67a345" stroke="#6aab44" stroke-width="0.5"/>
<text x="276.80" y="298.10" font-size="5.1" fill="#fff">-4.48</text>
<text x="375.80" y="298.40" font-size="5.0" fill="#3a3a3a">HALLMARK_INTERFERON_GAMMA_RESPONSE</text>
<line x1="369.60" y1="289.60" x2="371.90" y2="289.60" stroke="#222" stroke-width="0.8" />
<rect x="272.10" y="304.20" width="97.50" height="11.20" fill="#67a345" stroke="#6aab44" stroke-width="0.5"/>
<text x="273.70" y="311.60" font-size="5.1" fill="#fff">-4.66</text>
<text x="375.80" y="311.90" font-size="5.0" fill="#3a3a3a">HALLMARK_TNFA_SIGNALING_VIA_NFKB</text>
<line x1="369.60" y1="303.10" x2="371.90" y2="303.10" stroke="#222" stroke-width="0.8" />
<line x1="145.40" y1="180.30" x2="145.40" y2="317.20" stroke="#222" stroke-width="1" />
<line x1="145.40" y1="316.80" x2="253.00" y2="316.80" stroke="#555" stroke-width="1" />
<line x1="369.60" y1="179.60" x2="369.60" y2="317.20" stroke="#222" stroke-width="1" />
<line x1="264.40" y1="316.80" x2="369.60" y2="316.80" stroke="#555" stroke-width="1" />
<text x="147.00" y="175.00" font-size="5" text-anchor="middle">Low sensitivity</text>
<text x="360.60" y="175.00" font-size="5" text-anchor="middle">High sensitivity</text>
<rect x="155.10" y="326.10" width="11.10" height="6.70" fill="#2e4a7c" />
<text x="168.90" y="331.30" font-size="5">Cell cycle and apoptosis related</text>
<rect x="248.20" y="326.10" width="11.50" height="6.70" fill="#a50028" />
<text x="262.30" y="331.30" font-size="5">Metabolism related</text>
<rect x="312.90" y="326.10" width="11.50" height="6.70" fill="#67a345" />
<text x="327.10" y="331.30" font-size="5">Immune related</text>
<text x="71.00" y="368.80" font-size="7" text-anchor="middle" fill="#222" stroke="#222" stroke-width="0.15">pracinostat</text>
<line x1="41.80" y1="376.30" x2="41.80" y2="448.00" stroke="#222" stroke-width="1" />
<line x1="41.30" y1="447.50" x2="99.40" y2="447.50" stroke="#222" stroke-width="1" />
<line x1="39.60" y1="390.00" x2="41.80" y2="390.00" stroke="#222" stroke-width="0.8" />
<text x="35.60" y="391.80" font-size="5" text-anchor="end" fill="#222" stroke="#222" stroke-width="0.15">2.8</text>
<line x1="39.60" y1="413.00" x2="41.80" y2="413.00" stroke="#222" stroke-width="0.8" />
<text x="35.60" y="414.80" font-size="5" text-anchor="end" fill="#222" stroke="#222" stroke-width="0.15">2.4</text>
<line x1="39.60" y1="436.00" x2="41.80" y2="436.00" stroke="#222" stroke-width="0.8" />
<text x="35.60" y="437.80" font-size="5" text-anchor="end" fill="#222" stroke="#222" stroke-width="0.15">2.0</text>
<line x1="39.60" y1="378.50" x2="41.80" y2="378.50" stroke="#222" stroke-width="0.8" />
<line x1="39.60" y1="401.50" x2="41.80" y2="401.50" stroke="#222" stroke-width="0.8" />
<line x1="39.60" y1="424.50" x2="41.80" y2="424.50" stroke="#222" stroke-width="0.8" />
<line x1="57.50" y1="447.50" x2="57.50" y2="450.30" stroke="#222" stroke-width="0.8" />
<text x="57.50" y="458.20" font-size="5.3" text-anchor="middle" fill="#222" stroke="#222" stroke-width="0.15">BCR</text>
<line x1="84.80" y1="447.50" x2="84.80" y2="450.30" stroke="#222" stroke-width="0.8" />
<text x="84.80" y="458.20" font-size="5.3" text-anchor="middle" fill="#222" stroke="#222" stroke-width="0.15">OXPHOS</text>
<line x1="57.50" y1="389.20" x2="57.50" y2="405.60" stroke="#222" stroke-width="0.75" stroke-dasharray="0.9,0.7"/>
<line x1="52.30" y1="389.20" x2="62.70" y2="389.20" stroke="#333" stroke-width="0.8" />
<line x1="57.50" y1="438.60" x2="57.50" y2="444.80" stroke="#222" stroke-width="0.75" stroke-dasharray="0.9,0.7"/>
<line x1="52.30" y1="444.80" x2="62.70" y2="444.80" stroke="#333" stroke-width="0.8" />
<rect x="46.50" y="405.60" width="22.00" height="33.00" fill="#8b80bf" stroke="#9487d2" stroke-width="0.6"/>
<line x1="46.50" y1="423.00" x2="68.50" y2="423.00" stroke="#2d2a40" stroke-width="1.6" />
<line x1="84.95" y1="378.40" x2="84.95" y2="379.20" stroke="#222" stroke-width="0.75" stroke-dasharray="0.9,0.7"/>
<line x1="79.75" y1="378.40" x2="90.15" y2="378.40" stroke="#333" stroke-width="0.8" />
<line x1="84.95" y1="390.40" x2="84.95" y2="395.30" stroke="#222" stroke-width="0.75" stroke-dasharray="0.9,0.7"/>
<line x1="79.75" y1="395.30" x2="90.15" y2="395.30" stroke="#333" stroke-width="0.8" />
<rect x="73.80" y="379.20" width="22.30" height="11.20" fill="#8b80bf" stroke="#9487d2" stroke-width="0.6"/>
<line x1="73.80" y1="382.50" x2="96.10" y2="382.50" stroke="#2d2a40" stroke-width="1.6" />
<text x="23.90" y="411.50" font-size="6.3" text-anchor="middle" fill="#222" textLength="33.10" lengthAdjust="spacingAndGlyphs" transform="rotate(-90 23.90 411.50)" stroke="#222" stroke-width="0.15">Log dose (nM)</text>
<circle cx="68.4" cy="399.0" r="0.95" fill="#222"/><circle cx="71.1" cy="399.0" r="0.95" fill="#222"/>
<text x="168.80" y="368.80" font-size="7" text-anchor="middle" fill="#222" stroke="#222" stroke-width="0.15">vorinostat</text>
<line x1="138.75" y1="376.30" x2="138.75" y2="448.00" stroke="#222" stroke-width="1" />
<line x1="138.25" y1="447.50" x2="197.50" y2="447.50" stroke="#222" stroke-width="1" />
<line x1="136.55" y1="382.00" x2="138.75" y2="382.00" stroke="#222" stroke-width="0.8" />
<text x="132.55" y="383.80" font-size="5" text-anchor="end" fill="#222" stroke="#222" stroke-width="0.15">3.2</text>
<line x1="136.55" y1="403.75" x2="138.75" y2="403.75" stroke="#222" stroke-width="0.8" />
<text x="132.55" y="405.55" font-size="5" text-anchor="end" fill="#222" stroke="#222" stroke-width="0.15">2.8</text>
<line x1="136.55" y1="425.50" x2="138.75" y2="425.50" stroke="#222" stroke-width="0.8" />
<text x="132.55" y="427.30" font-size="5" text-anchor="end" fill="#222" stroke="#222" stroke-width="0.15">2.4</text>
<line x1="136.55" y1="447.50" x2="138.75" y2="447.50" stroke="#222" stroke-width="0.8" />
<text x="132.55" y="449.30" font-size="5" text-anchor="end" fill="#222" stroke="#222" stroke-width="0.15">2.0</text>
<line x1="136.55" y1="393.00" x2="138.75" y2="393.00" stroke="#222" stroke-width="0.8" />
<line x1="136.55" y1="414.50" x2="138.75" y2="414.50" stroke="#222" stroke-width="0.8" />
<line x1="136.55" y1="436.30" x2="138.75" y2="436.30" stroke="#222" stroke-width="0.8" />
<line x1="154.60" y1="447.50" x2="154.60" y2="450.30" stroke="#222" stroke-width="0.8" />
<text x="154.60" y="458.20" font-size="5.3" text-anchor="middle" fill="#222" stroke="#222" stroke-width="0.15">BCR</text>
<line x1="182.10" y1="447.50" x2="182.10" y2="450.30" stroke="#222" stroke-width="0.8" />
<text x="182.10" y="458.20" font-size="5.3" text-anchor="middle" fill="#222" stroke="#222" stroke-width="0.15">OXPHOS</text>
<line x1="154.90" y1="407.50" x2="154.90" y2="409.80" stroke="#222" stroke-width="0.75" stroke-dasharray="0.9,0.7"/>
<line x1="149.70" y1="407.50" x2="160.10" y2="407.50" stroke="#333" stroke-width="0.8" />
<line x1="154.90" y1="436.00" x2="154.90" y2="445.00" stroke="#222" stroke-width="0.75" stroke-dasharray="0.9,0.7"/>
<line x1="149.70" y1="445.00" x2="160.10" y2="445.00" stroke="#333" stroke-width="0.8" />
<rect x="144.30" y="409.80" width="21.20" height="26.20" fill="#8b80bf" stroke="#9487d2" stroke-width="0.6"/>
<line x1="144.30" y1="426.30" x2="165.50" y2="426.30" stroke="#2d2a40" stroke-width="1.6" />
<line x1="182.10" y1="378.80" x2="182.10" y2="388.00" stroke="#222" stroke-width="0.75" stroke-dasharray="0.9,0.7"/>
<line x1="176.90" y1="378.80" x2="187.30" y2="378.80" stroke="#333" stroke-width="0.8" />
<line x1="182.10" y1="403.90" x2="182.10" y2="410.50" stroke="#222" stroke-width="0.75" stroke-dasharray="0.9,0.7"/>
<line x1="176.90" y1="410.50" x2="187.30" y2="410.50" stroke="#333" stroke-width="0.8" />
<rect x="171.20" y="388.00" width="21.80" height="15.90" fill="#8b80bf" stroke="#9487d2" stroke-width="0.6"/>
<line x1="171.20" y1="397.40" x2="193.00" y2="397.40" stroke="#2d2a40" stroke-width="1.6" />
<text x="120.65" y="411.50" font-size="6.3" text-anchor="middle" fill="#222" textLength="33.10" lengthAdjust="spacingAndGlyphs" transform="rotate(-90 120.65 411.50)" stroke="#222" stroke-width="0.15">Log dose (nM)</text>
<circle cx="165.4" cy="401.8" r="1.0" fill="#222"/>
<text x="265.50" y="368.80" font-size="7" text-anchor="middle" fill="#222" stroke="#222" stroke-width="0.15">pracinostat</text>
<line x1="236.75" y1="374.30" x2="236.75" y2="448.00" stroke="#222" stroke-width="1" />
<line x1="236.25" y1="447.50" x2="294.30" y2="447.50" stroke="#222" stroke-width="1" />
<line x1="234.55" y1="376.00" x2="236.75" y2="376.00" stroke="#222" stroke-width="0.8" />
<text x="230.55" y="377.80" font-size="5" text-anchor="end" fill="#222" stroke="#222" stroke-width="0.15">3.0</text>
<line x1="234.55" y1="398.75" x2="236.75" y2="398.75" stroke="#222" stroke-width="0.8" />
<text x="230.55" y="400.55" font-size="5" text-anchor="end" fill="#222" stroke="#222" stroke-width="0.15">2.5</text>
<line x1="234.55" y1="421.25" x2="236.75" y2="421.25" stroke="#222" stroke-width="0.8" />
<text x="230.55" y="423.05" font-size="5" text-anchor="end" fill="#222" stroke="#222" stroke-width="0.15">2.0</text>
<line x1="234.55" y1="444.00" x2="236.75" y2="444.00" stroke="#222" stroke-width="0.8" />
<text x="230.55" y="445.80" font-size="5" text-anchor="end" fill="#222" stroke="#222" stroke-width="0.15">1.5</text>
<line x1="252.00" y1="447.50" x2="252.00" y2="450.30" stroke="#222" stroke-width="0.8" />
<text x="252.00" y="458.20" font-size="5.3" text-anchor="middle" fill="#222" stroke="#222" stroke-width="0.15">ABC</text>
<line x1="278.75" y1="447.50" x2="278.75" y2="450.30" stroke="#222" stroke-width="0.8" />
<text x="278.75" y="458.20" font-size="5.3" text-anchor="middle" fill="#222" stroke="#222" stroke-width="0.15">GCB</text>
<line x1="251.90" y1="384.30" x2="251.90" y2="403.30" stroke="#222" stroke-width="0.75" stroke-dasharray="0.9,0.7"/>
<line x1="246.70" y1="384.30" x2="257.10" y2="384.30" stroke="#333" stroke-width="0.8" />
<line x1="251.90" y1="416.30" x2="251.90" y2="421.00" stroke="#222" stroke-width="0.75" stroke-dasharray="0.9,0.7"/>
<line x1="246.70" y1="421.00" x2="257.10" y2="421.00" stroke="#333" stroke-width="0.8" />
<rect x="241.30" y="403.30" width="21.20" height="13.00" fill="#8b80bf" stroke="#9487d2" stroke-width="0.6"/>
<line x1="241.30" y1="410.50" x2="262.50" y2="410.50" stroke="#2d2a40" stroke-width="1.6" />
<line x1="278.75" y1="376.00" x2="278.75" y2="391.80" stroke="#222" stroke-width="0.75" stroke-dasharray="0.9,0.7"/>
<line x1="273.55" y1="376.00" x2="283.95" y2="376.00" stroke="#333" stroke-width="0.8" />
<line x1="278.75" y1="418.00" x2="278.75" y2="444.50" stroke="#222" stroke-width="0.75" stroke-dasharray="0.9,0.7"/>
<line x1="273.55" y1="444.50" x2="283.95" y2="444.50" stroke="#333" stroke-width="0.8" />
<rect x="268.00" y="391.80" width="21.50" height="26.20" fill="#8b80bf" stroke="#9487d2" stroke-width="0.6"/>
<line x1="268.00" y1="405.00" x2="289.50" y2="405.00" stroke="#2d2a40" stroke-width="1.6" />
<text x="218.15" y="411.50" font-size="6.3" text-anchor="middle" fill="#222" textLength="33.10" lengthAdjust="spacingAndGlyphs" transform="rotate(-90 218.15 411.50)" stroke="#222" stroke-width="0.15">Log dose (nM)</text>
<text x="362.00" y="368.80" font-size="7" text-anchor="middle" fill="#222" stroke="#222" stroke-width="0.15">vorinostat</text>
<line x1="333.25" y1="374.30" x2="333.25" y2="448.00" stroke="#222" stroke-width="1" />
<line x1="332.75" y1="447.50" x2="390.50" y2="447.50" stroke="#222" stroke-width="1" />
<line x1="331.05" y1="379.50" x2="333.25" y2="379.50" stroke="#222" stroke-width="0.8" />
<text x="327.05" y="381.30" font-size="5" text-anchor="end" fill="#222" stroke="#222" stroke-width="0.15">3.2</text>
<line x1="331.05" y1="402.25" x2="333.25" y2="402.25" stroke="#222" stroke-width="0.8" />
<text x="327.05" y="404.05" font-size="5" text-anchor="end" fill="#222" stroke="#222" stroke-width="0.15">2.8</text>
<line x1="331.05" y1="424.50" x2="333.25" y2="424.50" stroke="#222" stroke-width="0.8" />
<text x="327.05" y="426.30" font-size="5" text-anchor="end" fill="#222" stroke="#222" stroke-width="0.15">2.4</text>
<line x1="331.05" y1="447.25" x2="333.25" y2="447.25" stroke="#222" stroke-width="0.8" />
<text x="327.05" y="449.05" font-size="5" text-anchor="end" fill="#222" stroke="#222" stroke-width="0.15">2.0</text>
<line x1="331.05" y1="390.75" x2="333.25" y2="390.75" stroke="#222" stroke-width="0.8" />
<line x1="331.05" y1="413.50" x2="333.25" y2="413.50" stroke="#222" stroke-width="0.8" />
<line x1="331.05" y1="436.00" x2="333.25" y2="436.00" stroke="#222" stroke-width="0.8" />
<line x1="348.75" y1="447.50" x2="348.75" y2="450.30" stroke="#222" stroke-width="0.8" />
<text x="348.75" y="458.20" font-size="5.3" text-anchor="middle" fill="#222" stroke="#222" stroke-width="0.15">ABC</text>
<line x1="375.50" y1="447.50" x2="375.50" y2="450.30" stroke="#222" stroke-width="0.8" />
<text x="375.50" y="458.20" font-size="5.3" text-anchor="middle" fill="#222" stroke="#222" stroke-width="0.15">GCB</text>
<line x1="348.50" y1="407.80" x2="348.50" y2="419.30" stroke="#222" stroke-width="0.75" stroke-dasharray="0.9,0.7"/>
<line x1="343.30" y1="407.80" x2="353.70" y2="407.80" stroke="#333" stroke-width="0.8" />
<line x1="348.50" y1="427.00" x2="348.50" y2="427.30" stroke="#222" stroke-width="0.75" stroke-dasharray="0.9,0.7"/>
<line x1="343.30" y1="427.30" x2="353.70" y2="427.30" stroke="#333" stroke-width="0.8" />
<rect x="338.00" y="419.30" width="21.00" height="7.70" fill="#8b80bf" stroke="#9487d2" stroke-width="0.6"/>
<line x1="338.00" y1="424.30" x2="359.00" y2="424.30" stroke="#2d2a40" stroke-width="1.6" />
<line x1="375.60" y1="375.80" x2="375.60" y2="408.80" stroke="#222" stroke-width="0.75" stroke-dasharray="0.9,0.7"/>
<line x1="370.40" y1="375.80" x2="380.80" y2="375.80" stroke="#333" stroke-width="0.8" />
<line x1="375.60" y1="431.30" x2="375.60" y2="439.30" stroke="#222" stroke-width="0.75" stroke-dasharray="0.9,0.7"/>
<line x1="370.40" y1="439.30" x2="380.80" y2="439.30" stroke="#333" stroke-width="0.8" />
<rect x="365.00" y="408.80" width="21.20" height="22.50" fill="#8b80bf" stroke="#9487d2" stroke-width="0.6"/>
<line x1="365.00" y1="418.00" x2="386.20" y2="418.00" stroke="#2d2a40" stroke-width="1.6" />
<text x="314.90" y="411.50" font-size="6.3" text-anchor="middle" fill="#222" textLength="33.10" lengthAdjust="spacingAndGlyphs" transform="rotate(-90 314.90 411.50)" stroke="#222" stroke-width="0.15">Log dose (nM)</text>
<circle cx="349" cy="444.5" r="1.1" fill="none" stroke="#333" stroke-width="0.6"/>
</svg>
</div>
</body></html>
